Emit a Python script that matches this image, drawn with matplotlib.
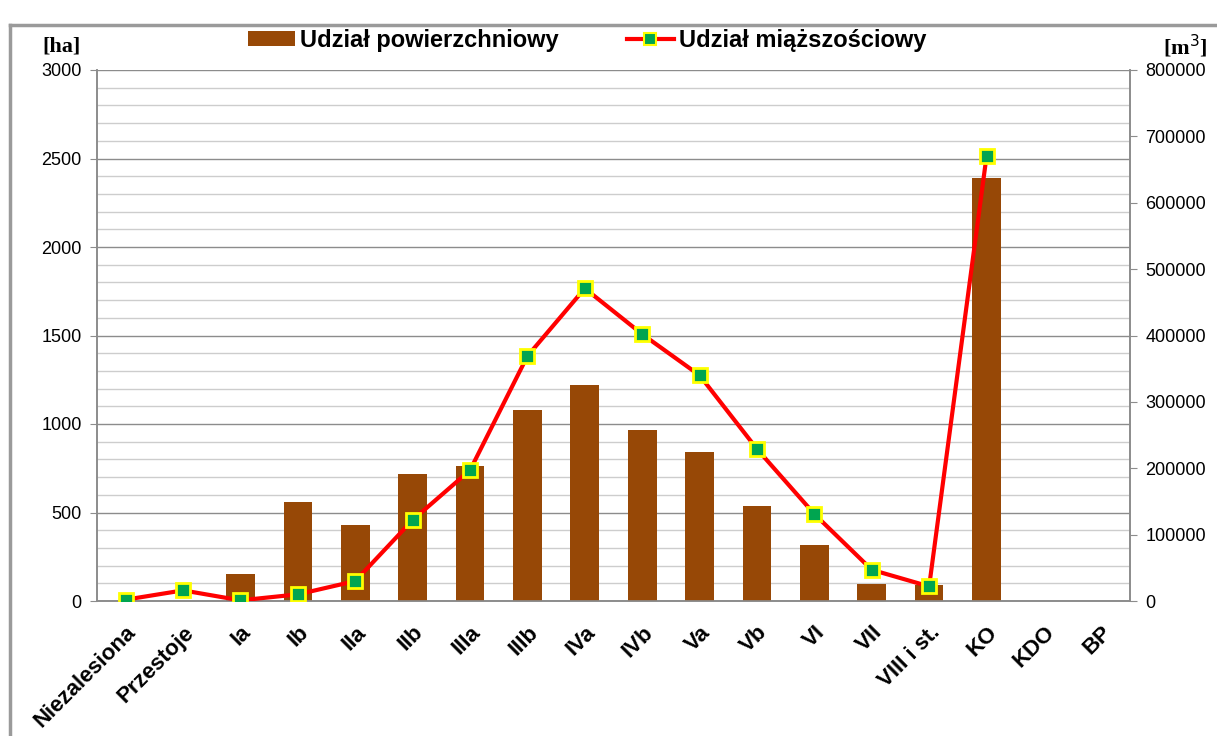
import matplotlib
matplotlib.use("Agg")
import matplotlib.pyplot as plt
import numpy as np
from matplotlib.lines import Line2D
from matplotlib.patches import Patch
from matplotlib.ticker import MultipleLocator, FuncFormatter

categories = ["Niezalesiona", "Przestoje", "Ia", "Ib", "IIa", "IIb", "IIIa", "IIIb",
              "IVa", "IVb", "Va", "Vb", "VI", "VII", "VIII i st.", "KO", "KDO", "BP"]
area_ha = [0, 0, 150, 560, 430, 720, 765, 1080, 1220, 965, 842, 537, 316, 98, 90, 2390, 0, 0]
volume_m3 = [2000, 16000, 1000, 10000, 30000, 122000, 197000, 369000, 471000, 402000,
             340000, 229000, 131000, 47000, 22000, 670000, np.nan, np.nan]

label_bar = "Udział powierzchniowy"
label_line = "Udział miąższościowy"

plt.rcParams['font.family'] = ['Liberation Sans', 'DejaVu Sans']

fig = plt.figure(figsize=(12.17, 7.36), dpi=100)
ax = fig.add_axes([97/1217, 1-601/736, (1130-97)/1217, (601-70)/736])
ax2 = ax.twinx()

x = np.arange(len(categories))
bar_color = "#974806"
ax.bar(x, area_ha, width=0.5, color=bar_color, zorder=3)
ax.set_xlim(-0.5, len(categories)-0.5)
ax.set_ylim(0, 3000)
ax.yaxis.set_major_locator(MultipleLocator(500))
ax.yaxis.set_minor_locator(MultipleLocator(100))
ax.grid(which='major', axis='y', color='#8c8c8c', lw=1.0, zorder=0)
ax.grid(which='minor', axis='y', color='#cdcdcd', lw=1.0, zorder=0)
ax.set_axisbelow(True)
ax.tick_params(axis='y', which='major', length=5, color='#8c8c8c', labelsize=13, pad=6)
ax.tick_params(axis='y', which='minor', length=0)
ax.tick_params(axis='x', length=0, pad=15)
ax.set_xticks(x)
ax.set_xticklabels(categories, rotation=45, ha='right', rotation_mode='anchor',
                   fontsize=16, fontweight='bold')

ax2.plot(x, volume_m3, color='#ff0000', lw=3, marker='s', markersize=10,
         markerfacecolor='#00a550', markeredgecolor='#ffff00', markeredgewidth=2, zorder=5)
ax2.set_ylim(0, 800000)
ax2.yaxis.set_major_locator(MultipleLocator(100000))
ax2.yaxis.set_major_formatter(FuncFormatter(lambda v, p: f"{int(v)}"))
ax2.tick_params(axis='y', length=5, color='#8c8c8c', labelsize=13, pad=6)

for a in (ax, ax2):
    a.spines['top'].set_visible(False)
    for s in ('left', 'right', 'bottom'):
        a.spines[s].set_color('#8c8c8c')
        a.spines[s].set_linewidth(1.2)

fig.text(62/1217, 1-46/736, "[ha]", family='Liberation Serif', fontweight='bold',
         fontsize=16, ha='center', va='center')
fig.text(1185/1217, 1-46/736, "[m$^3$]", family='Liberation Serif', fontweight='bold',
         fontsize=16, ha='center', va='center')

handles = [Patch(facecolor=bar_color, edgecolor='none'),
           Line2D([0], [0], color='#ff0000', lw=3, marker='s', markersize=8,
                  markerfacecolor='#00a550', markeredgecolor='#ffff00', markeredgewidth=1.5)]
leg = fig.legend(handles, [label_bar, label_line], loc='center left', ncol=2,
                 bbox_to_anchor=(236/1217, 1-40/736), frameon=False, borderpad=0,
                 prop={'family': 'Liberation Sans', 'weight': 'bold', 'size': 17},
                 handlelength=2.0, handleheight=0.6, columnspacing=2.9, handletextpad=0.2)

# outer chart frame
fig.add_artist(Line2D([10/1217, 10/1217], [0, 1-25/736], transform=fig.transFigure,
                      color='#9a9a9a', lw=2.5))
fig.add_artist(Line2D([10/1217, 1], [1-25/736, 1-25/736], transform=fig.transFigure,
                      color='#9a9a9a', lw=2.5))

fig.savefig("out.png", dpi=100)
